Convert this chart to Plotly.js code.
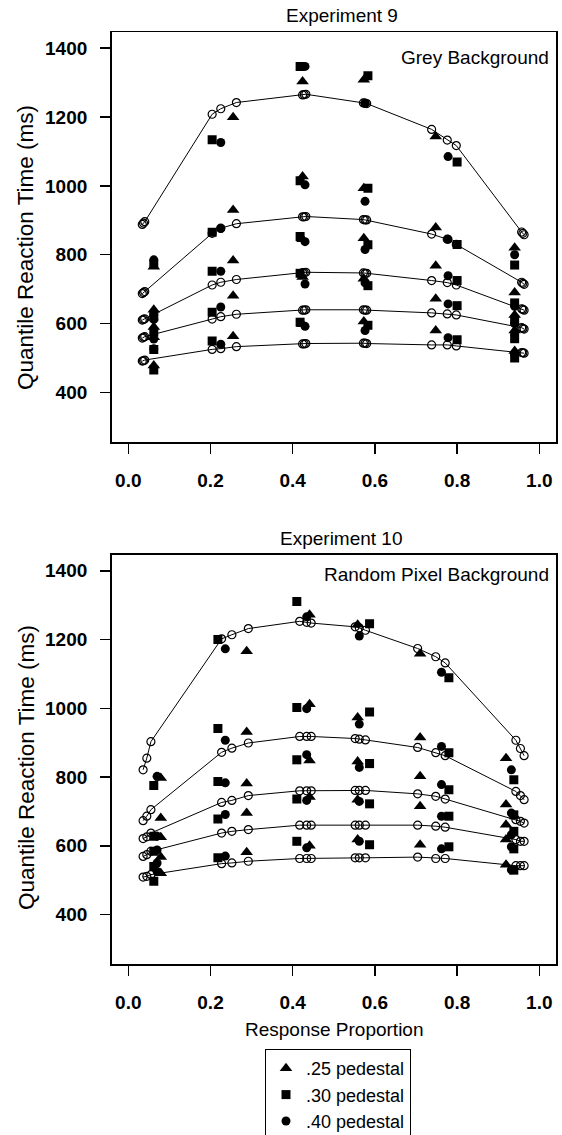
<!DOCTYPE html>
<html>
<head>
<meta charset="utf-8">
<script src="https://cdn.plot.ly/plotly-3.0.1.min.js"></script>
<style>html,body{margin:0;padding:0;background:#fff}#chart{width:562px;height:1135px}</style>
</head>
<body>
<div id="chart"></div>
<script>
// ---- tick labels / categories ----
const xTickVals = [0, 0.2, 0.4, 0.6, 0.8, 1.0];
const xTickText = ['0.0', '0.2', '0.4', '0.6', '0.8', '1.0'];
const yTickVals = [400, 600, 800, 1000, 1200, 1400];
const yTickText = ['400', '600', '800', '1000', '1200', '1400'];
const pedestalNames = ['.25 pedestal', '.30 pedestal', '.40 pedestal'];

// ---- Experiment 9 : model predictions (open circles, joined) ----
const exp9ModelX  = [0.034, 0.037, 0.040, 0.204, 0.225, 0.263, 0.424, 0.428, 0.432, 0.572, 0.576, 0.580, 0.738, 0.776, 0.798, 0.957, 0.960, 0.963];
const exp9ModelQ1 = [491, 492, 494, 525, 527, 533, 541, 541, 542, 543, 543, 542, 538, 538, 535, 516, 515, 514];
const exp9ModelQ2 = [558, 560, 562, 613, 620, 627, 639, 639, 640, 640, 639, 639, 631, 628, 625, 588, 586, 584];
const exp9ModelQ3 = [610, 612, 614, 712, 720, 728, 748, 748, 749, 747, 746, 746, 725, 719, 712, 643, 641, 639];
const exp9ModelQ4 = [687, 690, 693, 862, 877, 890, 910, 910, 911, 902, 901, 901, 860, 845, 830, 720, 717, 714];
const exp9ModelQ5 = [888, 892, 896, 1208, 1224, 1242, 1264, 1265, 1266, 1241, 1240, 1239, 1164, 1133, 1117, 866, 862, 858];

// ---- Experiment 9 : data (.25 pedestal, triangles) ----
const exp9P25X  = [0.062, 0.255, 0.424, 0.573, 0.748, 0.940];
const exp9P25Q1 = [478, 563, 598, 606, 580, 520];
const exp9P25Q2 = [560, 681, 735, 730, 672, 580];
const exp9P25Q3 = [590, 783, 845, 848, 768, 625];
const exp9P25Q4 = [640, 930, 1027, 993, 879, 690];
const exp9P25Q5 = [765, 1199, 1303, 1308, 1143, 820];
// ---- Experiment 9 : data (.30 pedestal, squares) ----
const exp9P30X  = [0.062, 0.204, 0.418, 0.583, 0.800, 0.940];
const exp9P30Q1 = [465, 549, 604, 595, 553, 500];
const exp9P30Q2 = [525, 633, 746, 710, 652, 556];
const exp9P30Q3 = [575, 752, 853, 829, 725, 610];
const exp9P30Q4 = [620, 865, 1015, 993, 830, 660];
const exp9P30Q5 = [772, 1134, 1347, 1320, 1069, 770];
// ---- Experiment 9 : data (.40 pedestal, circles) ----
const exp9P40X  = [0.062, 0.225, 0.430, 0.576, 0.778, 0.940];
const exp9P40Q1 = [527, 540, 592, 580, 559, 510];
const exp9P40Q2 = [555, 648, 715, 718, 657, 570];
const exp9P40Q3 = [612, 752, 838, 815, 739, 600];
const exp9P40Q4 = [625, 876, 1003, 955, 845, 650];
const exp9P40Q5 = [785, 1126, 1347, 1240, 1085, 800];

// ---- Experiment 10 : model predictions ----
const exp10ModelX  = [0.036, 0.045, 0.055, 0.227, 0.252, 0.292, 0.417, 0.434, 0.445, 0.552, 0.562, 0.577, 0.704, 0.748, 0.771, 0.943, 0.954, 0.963];
const exp10ModelQ1 = [509, 511, 516, 548, 550, 555, 563, 563, 563, 565, 565, 565, 567, 563, 563, 542, 542, 542];
const exp10ModelQ2 = [569, 574, 584, 637, 642, 647, 660, 660, 660, 660, 660, 660, 660, 657, 654, 618, 613, 613];
const exp10ModelQ3 = [621, 626, 637, 726, 732, 746, 760, 760, 760, 761, 761, 761, 751, 744, 736, 676, 671, 666];
const exp10ModelQ4 = [673, 686, 705, 872, 884, 899, 918, 918, 918, 912, 910, 908, 886, 871, 862, 758, 746, 734];
const exp10ModelQ5 = [821, 855, 903, 1202, 1214, 1232, 1253, 1250, 1248, 1237, 1234, 1227, 1174, 1150, 1132, 907, 883, 862];

// ---- Experiment 10 : data (.25 pedestal) ----
const exp10P25X  = [0.079, 0.288, 0.441, 0.558, 0.710, 0.919];
const exp10P25Q1 = [520, 581, 600, 618, 603, 545];
const exp10P25Q2 = [567, 695, 742, 734, 715, 618];
const exp10P25Q3 = [625, 781, 848, 845, 802, 661];
const exp10P25Q4 = [681, 931, 1012, 973, 915, 720];
const exp10P25Q5 = [797, 1166, 1272, 1243, 1159, 855];
// ---- Experiment 10 : data (.30 pedestal) ----
const exp10P30X  = [0.062, 0.218, 0.410, 0.587, 0.780, 0.938];
const exp10P30Q1 = [497, 565, 613, 603, 597, 529];
const exp10P30Q2 = [540, 678, 736, 722, 686, 591];
const exp10P30Q3 = [584, 787, 850, 839, 763, 642];
const exp10P30Q4 = [628, 941, 1002, 989, 871, 690];
const exp10P30Q5 = [775, 1200, 1311, 1246, 1089, 792];
// ---- Experiment 10 : data (.40 pedestal) ----
const exp10P40X  = [0.070, 0.236, 0.434, 0.562, 0.762, 0.932];
const exp10P40Q1 = [525, 570, 594, 613, 591, 530];
const exp10P40Q2 = [550, 691, 732, 729, 686, 597];
const exp10P40Q3 = [588, 783, 865, 828, 778, 632];
const exp10P40Q4 = [628, 907, 999, 954, 889, 695];
const exp10P40Q5 = [802, 1173, 1266, 1210, 1105, 821];

// ---------------------------------------------------------------
const FONT = 'Liberation Sans, Arial, Helvetica, sans-serif';
const W = 562, H = 1135;
const px = v => v / W;            // horizontal pixel -> paper
const py = v => 1 - v / H;        // vertical pixel (from top) -> paper

function dataTrace(xs, qs, symbol, size, name, xa, ya, showlegend) {
  const x = [], y = [];
  qs.forEach(q => q.forEach((v, i) => { x.push(xs[i]); y.push(v); }));
  return {
    type: 'scatter', mode: 'markers', x: x, y: y, xaxis: xa, yaxis: ya,
    name: name, showlegend: showlegend, hoverinfo: 'skip',
    marker: { symbol: symbol, size: size, color: '#000', line: { width: 0 } }
  };
}
function modelTrace(xs, q, xa, ya) {
  return {
    type: 'scatter', mode: 'lines+markers', x: xs, y: q, xaxis: xa, yaxis: ya,
    showlegend: false, hoverinfo: 'skip',
    line: { color: '#000', width: 1 },
    marker: { symbol: 'circle-open', size: 8, color: '#000', line: { width: 1.2, color: '#000' } }
  };
}

const traces = [];
const panels = [
  { xa: 'x', ya: 'y', legend: true,
    data: [[exp9P25X, [exp9P25Q1, exp9P25Q2, exp9P25Q3, exp9P25Q4, exp9P25Q5]],
           [exp9P30X, [exp9P30Q1, exp9P30Q2, exp9P30Q3, exp9P30Q4, exp9P30Q5]],
           [exp9P40X, [exp9P40Q1, exp9P40Q2, exp9P40Q3, exp9P40Q4, exp9P40Q5]]],
    modelX: exp9ModelX, model: [exp9ModelQ1, exp9ModelQ2, exp9ModelQ3, exp9ModelQ4, exp9ModelQ5] },
  { xa: 'x2', ya: 'y2', legend: false,
    data: [[exp10P25X, [exp10P25Q1, exp10P25Q2, exp10P25Q3, exp10P25Q4, exp10P25Q5]],
           [exp10P30X, [exp10P30Q1, exp10P30Q2, exp10P30Q3, exp10P30Q4, exp10P30Q5]],
           [exp10P40X, [exp10P40Q1, exp10P40Q2, exp10P40Q3, exp10P40Q4, exp10P40Q5]]],
    modelX: exp10ModelX, model: [exp10ModelQ1, exp10ModelQ2, exp10ModelQ3, exp10ModelQ4, exp10ModelQ5] }
];
const symbols = [['triangle-up', 11], ['square', 9], ['circle', 9]];
panels.forEach(p => {
  p.data.forEach((d, k) => traces.push(dataTrace(d[0], d[1], symbols[k][0], symbols[k][1], pedestalNames[k], p.xa, p.ya, p.legend)));
  p.model.forEach(q => traces.push(modelTrace(p.modelX, q, p.xa, p.ya)));
});

const xDomain = [px(111.7), px(556)];
function xAxis(anchor) {
  return {
    domain: xDomain, anchor: anchor, range: [-0.0404, 1.0406],
    tickvals: xTickVals, ticktext: xTickText,
    ticks: 'outside', ticklen: 10, tickwidth: 1.5, tickcolor: '#000',
    showline: true, mirror: true, linecolor: '#000', linewidth: 1.6,
    showgrid: false, zeroline: false, ticklabelstandoff: 11,
    tickfont: { family: FONT, size: 19, color: '#000', weight: 'bold' }
  };
}
function yAxis(anchor, top, bottom) {
  return {
    domain: [py(bottom), py(top)], anchor: anchor, range: [256, 1446],
    tickvals: yTickVals, ticktext: yTickText,
    ticks: 'outside', ticklen: 10, tickwidth: 1.5, tickcolor: '#000',
    showline: true, mirror: true, linecolor: '#000', linewidth: 1.6,
    showgrid: false, zeroline: false, ticklabelstandoff: 9,
    tickfont: { family: FONT, size: 19, color: '#000', weight: 'bold' }
  };
}

function ann(text, x, y, size, opts) {
  return Object.assign({ text: text, xref: 'paper', yref: 'paper', x: x, y: y,
    showarrow: false, xanchor: 'center', yanchor: 'middle',
    font: { family: FONT, size: size, color: '#000' } }, opts || {});
}

const layout = {
  width: W, height: H,
  margin: { l: 0, r: 0, t: 0, b: 0, autoexpand: false },
  paper_bgcolor: '#fff', plot_bgcolor: '#fff',
  font: { family: FONT, color: '#000' },
  xaxis: xAxis('y'), yaxis: yAxis('x', 32.3, 442),
  xaxis2: xAxis('y2'), yaxis2: yAxis('x2', 555, 964),
  showlegend: true,
  legend: {
    x: px(265), y: py(1049), xanchor: 'left', yanchor: 'top',
    bordercolor: '#000', borderwidth: 1, bgcolor: '#fff',
    tracegroupgap: 0, itemsizing: 'trace',
    font: { family: FONT, size: 18, color: '#000' }
  },
  annotations: [
    ann('Experiment 9', px(341.5), py(15.5), 19),
    ann('Experiment 10', px(341.5), py(538), 19),
    ann('Grey Background', px(551), py(57), 19, { xanchor: 'right' }),
    ann('Random Pixel Background', px(551), py(574), 19, { xanchor: 'right' }),
    ann('Quantile Reaction Time (ms)', px(26), py(248), 22.5, { textangle: -90 }),
    ann('Quantile Reaction Time (ms)', px(26), py(768), 22.5, { textangle: -90 }),
    ann('Response Proportion', px(334), py(1029), 19)
  ]
};

Plotly.newPlot('chart', traces, layout, { displayModeBar: false, staticPlot: true });
</script>
</body>
</html>
